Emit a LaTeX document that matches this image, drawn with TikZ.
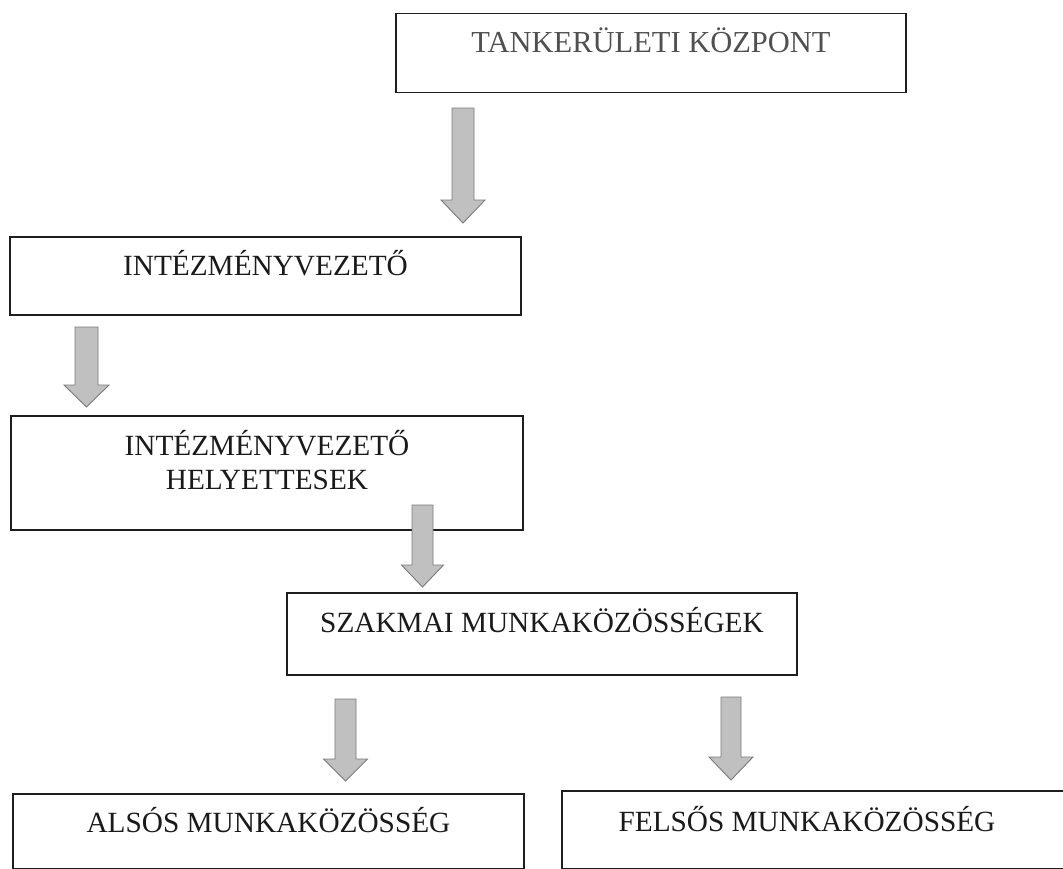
\documentclass[tikz,border=0pt]{standalone}
\usepackage{fontspec}
\setmainfont{Liberation Serif}
\definecolor{arrfill}{HTML}{C0C0C0}
\definecolor{arrline}{HTML}{7A7A7A}
\definecolor{boxline}{HTML}{1E1E1E}
\definecolor{txt}{HTML}{1A1A1A}
\definecolor{toptxt}{HTML}{505050}
\newcommand{\blkarrow}[7]{% name, cx, y top, y head, y tip, shaft half width, head half width
  \coordinate (#1s) at (#2,#3);
  \coordinate (#1e) at (#2,#5);
  \draw[blockarr] ({#2-#6},#3) -- ({#2+#6},#3) -- ({#2+#6},#4) -- ({#2+#7},#4)
    -- (#1e) -- ({#2-#7},#4) -- ({#2-#6},#4) -- cycle;
}
\begin{document}
\begin{tikzpicture}[x=1pt,y=-1pt,
  orgbox/.style={draw=boxline, line width=1.6pt, inner xsep=0pt, inner ysep=0pt,
    anchor=base, text=txt, font=\fontsize{29.3}{34.5}\selectfont},
  blockarr/.style={fill=arrfill, draw=arrline, line width=0.9pt, line join=miter}]
\useasboundingbox (0,0) rectangle (1063,868);
\clip (0,0) rectangle (1063,868);
\fill[white] (0,0) rectangle (1063,868);

\node[orgbox, text=toptxt, font=\fontsize{30.5}{36}\selectfont,
  minimum width=510pt, text height=38.5pt, text depth=40.5pt] (b1) at (651,52)
  {TANKERÜLETI KÖZPONT};
\node[orgbox, minimum width=511pt, text height=38pt, text depth=40pt] (b2) at (265.5,275)
  {INTÉZMÉNYVEZETŐ};
\node[orgbox, minimum width=512pt, text height=39pt, text depth=75pt] (b3) at (267,455)
  {\begin{tabular}[t]{@{}c@{}}INTÉZMÉNYVEZETŐ\\HELYETTESEK\end{tabular}};
\node[orgbox, minimum width=510pt, text height=39pt, text depth=43pt] (b4) at (542,632)
  {SZAKMAI MUNKAKÖZÖSSÉGEK};
\node[orgbox, minimum width=511pt, text height=38pt, text depth=36.8pt] (b5) at (268.5,832)
  {ALSÓS MUNKAKÖZÖSSÉG};
\node[orgbox, minimum width=513pt, text height=40pt, text depth=37.8pt] (b6) at (818.5,831)
  {\hspace*{-23pt}FELSŐS MUNKAKÖZÖSSÉG};

\blkarrow{a1}{463}{108}{200}{223}{11}{22}
\blkarrow{a2}{86.5}{327}{385}{407}{11.5}{22.5}
\blkarrow{a3}{422.5}{505}{565}{587}{10.5}{21}
\blkarrow{a4}{345.5}{699}{759}{781}{10.5}{22}
\blkarrow{a5}{731}{697}{757}{780}{10}{22}
\end{tikzpicture}
\end{document}
